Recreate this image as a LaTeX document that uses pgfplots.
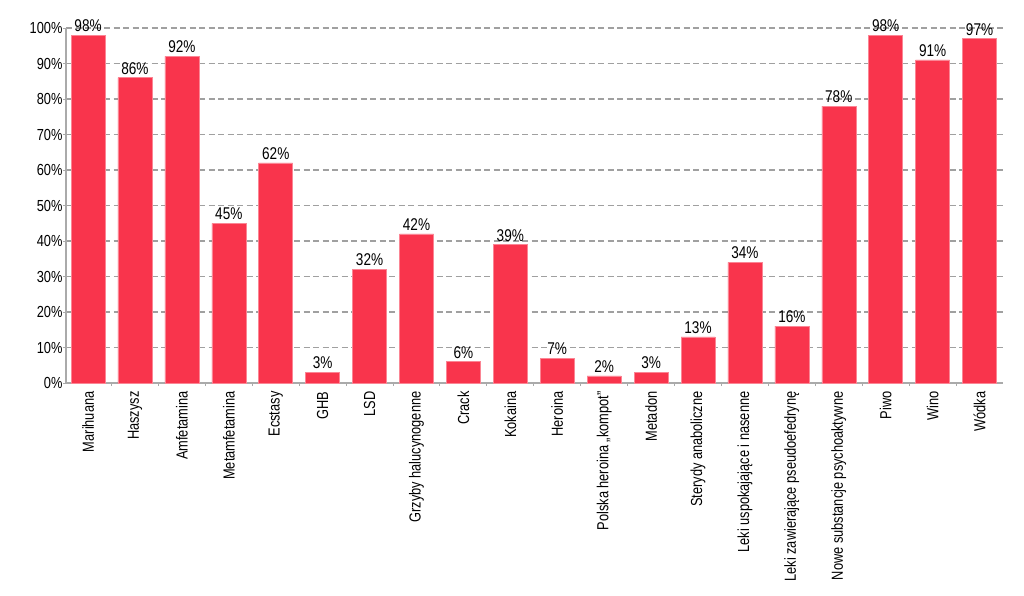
\documentclass[border=0pt]{standalone}
\usepackage{pgfplots}
\pgfplotsset{compat=1.18}
\usepackage{fontspec}
\setmainfont{Liberation Sans}[FakeStretch=0.8]
\definecolor{barred}{RGB}{249,52,76}
\definecolor{gridgray}{RGB}{160,160,160}
\definecolor{axgray}{RGB}{170,170,170}
\begin{document}
\begin{tikzpicture}[x=1pt,y=1pt]
\path[use as bounding box] (-66pt,-212pt) rectangle (958pt,383pt);
\begin{axis}[
  at={(0,0)}, anchor=south west,
  scale only axis, width=937pt, height=355pt,
  xmin=-0.47, xmax=19.5, ymin=0, ymax=100,
  axis x line*=bottom, axis y line*=left,
  axis line style={axgray, line width=1.6pt, -},
  ybar, bar width=34pt,
  ytick={0,10,...,100},
  yticklabels={0\%,10\%,20\%,30\%,40\%,50\%,60\%,70\%,80\%,90\%,100\%},
  yticklabel style={font=\fontsize{16}{16}\selectfont, xshift=3pt},
  ymajorgrids, grid style={gridgray, dashed, line width=1.1pt, dash pattern=on 6pt off 3.5pt},
  xtick=data,
  xticklabels={Marihuana,Haszysz,Amfetamina,Metamfetamina,Ecstasy,GHB,LSD,Grzyby halucynogenne,Crack,Kokaina,Heroina,{Polska heroina „kompot”},Metadon,Sterydy anaboliczne,Leki uspokajające i nasenne,Leki zawierające pseudoefedrynę,Nowe substancje psychoaktywne,Piwo,Wino,Wódka},
  xticklabel style={rotate=90, anchor=east, font=\fontsize{16}{16}\selectfont, xshift=-2pt},
  major x tick style={draw=none},
  minor xtick={0.5,1.5,...,18.5},
  minor tick length=3pt,
  minor x tick style={axgray, line width=1pt},
  tick align=outside,
  major tick length=3pt,
  major y tick style={axgray, line width=1pt},
  nodes near coords={\pgfmathprintnumber{\pgfplotspointmeta}\%},
  nodes near coords style={font=\fontsize{17}{17}\selectfont, inner sep=3pt},
  /pgf/number format/assume math mode=true,
  clip=false,
]
\addplot[fill=barred, draw=barred!60!white, line width=0.5pt] coordinates {
(0,98) (1,86) (2,92) (3,45) (4,62) (5,3) (6,32) (7,42) (8,6) (9,39)
(10,7) (11,2) (12,3) (13,13) (14,34) (15,16) (16,78) (17,98) (18,91) (19,97)};
\end{axis}
\end{tikzpicture}
\end{document}
